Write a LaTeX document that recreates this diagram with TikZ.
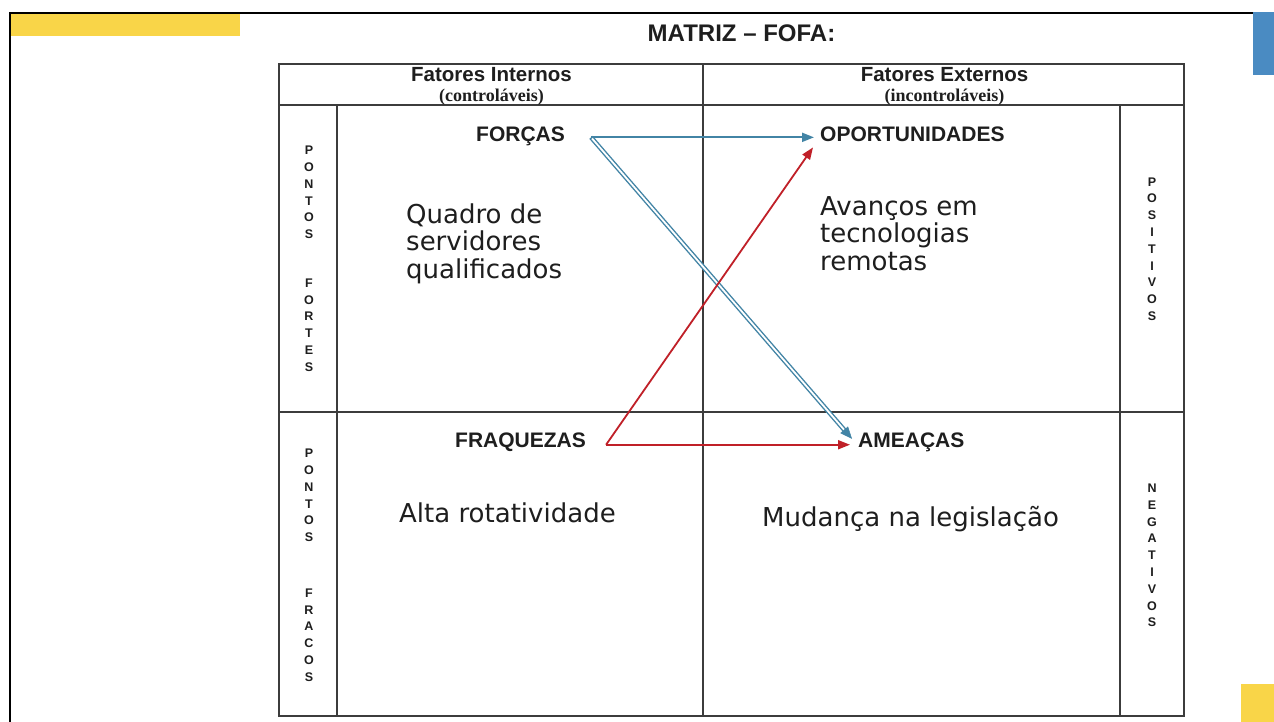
\documentclass[tikz,border=0pt]{standalone}
\usepackage{fontspec}
\setmainfont{Liberation Sans}
\newfontfamily\serifbold{Liberation Serif}
\newfontfamily\bodyfont{DejaVu Sans}
\usetikzlibrary{arrows.meta,calc}
\definecolor{slideyellow}{RGB}{249,213,72}
\definecolor{slideblue}{RGB}{74,139,194}
\definecolor{arrblue}{RGB}{66,132,165}
\definecolor{arrred}{RGB}{192,32,40}
\definecolor{tblc}{RGB}{60,60,60}
\definecolor{txt}{RGB}{30,30,30}
\tikzset{
  tbl/.style={draw=tblc, line width=1.8pt},
  lab/.style={font=\fontsize{21}{25}\selectfont\bfseries, text=txt, inner sep=3pt},
  hdr/.style={font=\fontsize{20.5}{24}\selectfont\bfseries, text=txt, inner sep=0pt, anchor=base},
  sub/.style={font=\serifbold\fontsize{18}{20}\selectfont\bfseries, text=txt, inner sep=0pt, anchor=base},
  bodytxt/.style={font=\bodyfont\fontsize{26}{27.5}\selectfont, text=txt, inner sep=0pt, align=left, anchor=base west},
  vstack/.style={font=\fontsize{12.5}{16.8}\selectfont\bfseries, text=txt, inner sep=0pt, align=center},
  bluearrow/.style={draw=arrblue, line width=2pt, -{Triangle[length=12pt,width=9pt]}},
  redarrow/.style={draw=arrred, line width=1.8pt, -{Triangle[length=12pt,width=9pt]}},
}
\begin{document}
\begin{tikzpicture}[x=1pt,y=-1pt]
\useasboundingbox (0,0) rectangle (1274,722);
\fill[white] (0,0) rectangle (1274,722);
% slide frame and decorations
\draw[black, line width=2pt] (1274,13) -- (10,13) -- (10,722);
\fill[slideyellow] (11,14) rectangle (240,36);
\fill[slideblue] (1253,12) rectangle (1274,75);
\fill[slideyellow] (1241,684) rectangle (1274,722);
% title
\node[font=\fontsize{24}{28}\selectfont\bfseries, text=txt, inner sep=0pt, anchor=base] (title) at (741.5,42) {MATRIZ -- FOFA:};
% table
\draw[tbl] (279,64) rectangle (1184,716);
\draw[tbl] (279,105) -- (1184,105);
\draw[tbl] (279,412) -- (1184,412);
\draw[tbl] (703,64) -- (703,716);
\draw[tbl] (337,105) -- (337,716);
\draw[tbl] (1120,105) -- (1120,716);
% headers
\node[hdr] (fi) at (491.5,82) {Fatores Internos};
\node[sub] (fic) at (491.5,102) {(controláveis)};
\node[hdr] (fe) at (944.5,82) {Fatores Externos};
\node[sub] (fec) at (944.5,102) {(incontroláveis)};
% vertical stacks
\node[vstack] (pf1) at (309,192.5) {P\\O\\N\\T\\O\\S};
\node[vstack] (pf2) at (309,325) {F\\O\\R\\T\\E\\S};
\node[vstack] (pr1) at (309,495.5) {P\\O\\N\\T\\O\\S};
\node[vstack] (pr2) at (309,635) {F\\R\\A\\C\\O\\S};
\node[vstack] (pos) at (1152,249) {P\\O\\S\\I\\T\\I\\V\\O\\S};
\node[vstack] (neg) at (1152,555.5) {N\\E\\G\\A\\T\\I\\V\\O\\S};
% quadrant labels
\node[lab, anchor=base west] (fo) at (473,142) {FORÇAS};
\node[lab, anchor=base west] (op) at (817,142) {OPORTUNIDADES};
\node[lab, anchor=base west] (fq) at (452,447) {FRAQUEZAS};
\node[lab, anchor=base west] (am) at (855,447) {AMEAÇAS};
% body texts (base anchor = baseline of last line)
\node[bodytxt] (q1) at (406,278) {Quadro de\\servidores\\qualificados};
\node[bodytxt] (q2) at (820,270) {Avanços em\\tecnologias\\remotas};
\node[bodytxt] (q3) at (399,522) {Alta rotatividade};
\node[bodytxt] (q4) at (762,526) {Mudança na legislação};
% arrow anchors
\coordinate (fs) at ($(fo.east)+(23,0.5)$);
\coordinate (fqs) at ($(fq.east)+(17,3)$);
\coordinate (opt) at ($(fs -| op.west)+(-3,0)$);
\coordinate (opd) at ($(op.south west)+(-4,2)$);
\coordinate (amb) at ($(am.west)+(-3,-3)$);
\coordinate (amr) at ($(fqs -| am.west)+(-5,0)$);
% blue arrows
\draw[bluearrow] (fs) -- (opt);
\draw[arrblue, line width=4.6pt, shorten >=10pt] (fs) -- (amb);
\draw[white, line width=1.8pt, shorten >=10pt, shorten <=1.5pt] (fs) -- (amb);
\draw[arrblue, line width=0.4pt, -{Triangle[length=12pt,width=10pt]}] ($(amb)!12pt!(fs)$) -- (amb);
% red arrows
\draw[redarrow] (fqs) -- (amr);
\draw[redarrow] (fqs) -- (opd);
\end{tikzpicture}
\end{document}
